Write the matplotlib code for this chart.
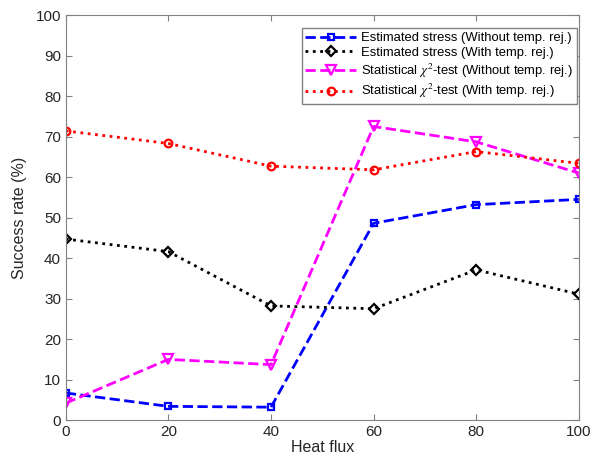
import numpy as np
import matplotlib
matplotlib.use('Agg')
import matplotlib.pyplot as plt

plt.rcParams['font.family'] = ['Liberation Sans', 'DejaVu Sans']
plt.rcParams['mathtext.fontset'] = 'stix'

# Data
heat_flux = [0, 20, 40, 60, 80, 100]
est_without = [6.7, 3.4, 3.2, 48.6, 53.2, 54.5]
est_with = [44.7, 41.6, 28.2, 27.5, 37.1, 31.1]
chi_without = [4.2, 15.0, 13.7, 72.5, 68.7, 61.0]
chi_with = [71.4, 68.3, 62.7, 61.8, 66.3, 63.4]

labels = ['Estimated stress (Without temp. rej.)',
          'Estimated stress (With temp. rej.)',
          r'Statistical $\chi^{2}$-test (Without temp. rej.)',
          r'Statistical $\chi^{2}$-test (With temp. rej.)']

fig = plt.figure(figsize=(5.93, 4.71), dpi=100)
ax = fig.add_axes([0.111, 0.108, 0.865, 0.860])

ax.plot(heat_flux, est_without, '--', color='#0000ff', lw=2, marker='s',
        ms=5, mfc='none', mew=1.6, label=labels[0])
ax.plot(heat_flux, est_with, ':', color='black', lw=2, marker='D',
        ms=5, mfc='none', mew=1.6, label=labels[1])
ax.plot(heat_flux, chi_without, '--', color='#ff00ff', lw=2, marker='v',
        ms=6.5, mfc='none', mew=1.6, label=labels[2])
ax.plot(heat_flux, chi_with, ':', color='#ff0000', lw=2, marker='o',
        ms=5.5, mfc='none', mew=1.6, label=labels[3])

ax.set_xlim(0, 100)
ax.set_ylim(0, 100)
ax.set_xticks(np.arange(0, 101, 20))
ax.set_yticks(np.arange(0, 101, 10))
ax.tick_params(direction='in', top=True, right=True, labelsize=11,
               colors='#808080', labelcolor='#262626', length=4)
for s in ax.spines.values():
    s.set_color('#808080')

ax.set_xlabel('Heat flux', fontsize=11.5, color='#262626', labelpad=1)
ax.set_ylabel('Success rate (%)', fontsize=11.5, color='#262626', labelpad=6)

leg = ax.legend(loc='upper right', fontsize=9.4, handlelength=3.9,
                borderpad=0.3, labelspacing=0.2, handletextpad=0.35,
                fancybox=False, framealpha=1, edgecolor='#808080',
                borderaxespad=0.0, bbox_to_anchor=(0.996, 0.968))
leg.get_frame().set_linewidth(1.0)

fig.savefig('out.png', dpi=100)
